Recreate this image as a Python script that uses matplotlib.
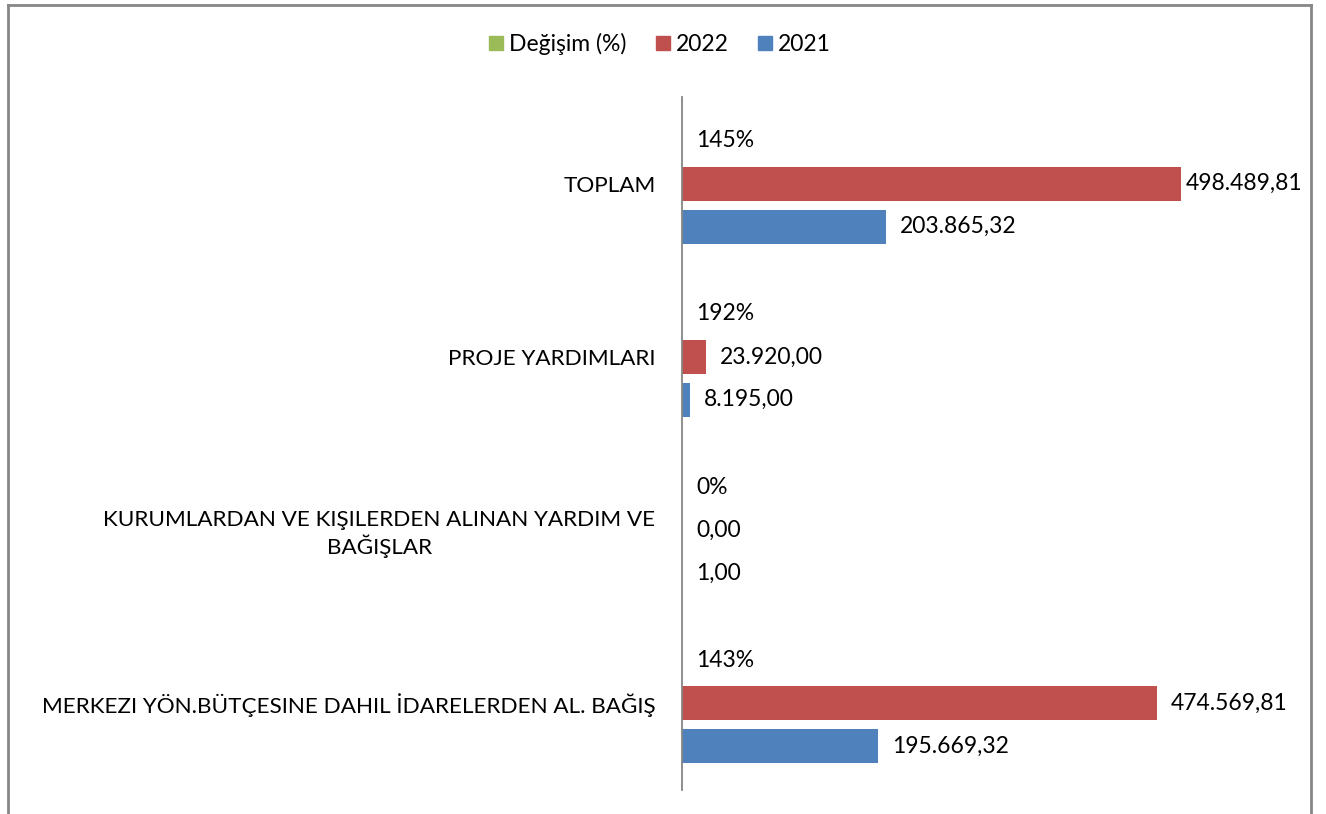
import matplotlib
matplotlib.use("Agg")
import matplotlib.pyplot as plt
from matplotlib.lines import Line2D
from matplotlib.patches import Patch

plt.rcParams['font.family'] = ['Lato', 'DejaVu Sans']

categories = ["MERKEZI YÖN.BÜTÇESINE DAHIL İDARELERDEN AL. BAĞIŞ",
              "KURUMLARDAN VE KIŞILERDEN ALINAN YARDIM VE\nBAĞIŞLAR",
              "PROJE YARDIMLARI",
              "TOPLAM"]
v2021 = [195669.32, 1.00, 8195.00, 203865.32]
v2022 = [474569.81, 0.00, 23920.00, 498489.81]
change = [1.43, 0.00, 1.92, 1.45]

c_change = "#9BBB59"
c_2022 = "#C0504D"
c_2021 = "#4F81BD"
grey = "#868686"
fs = 16.5


def tr_num(v):
    s = f"{v:,.2f}"
    return s.replace(",", "X").replace(".", ",").replace("X", ".")


W, H = 1326, 814
fig = plt.figure(figsize=(W / 100, H / 100), dpi=100)
ax = fig.add_axes([682 / W, 1 - 790 / H, (1302 - 682) / W, (790 - 97) / H])

y = list(range(len(categories)))
step = 0.248
bh = 0.196
ax.barh([i + step for i in y], change, height=bh, color=c_change)
ax.barh(y, v2022, height=bh, color=c_2022)
ax.barh([i - step for i in y], v2021, height=bh, color=c_2021)

ax.set_xlim(0, 619400)
ax.set_ylim(-0.5, len(categories) - 0.5)
ax.set_yticks(y)
ax.set_yticklabels(categories, fontsize=16.2, multialignment="center")
ax.tick_params(axis="y", length=0, pad=19)
ax.set_xticks([])
for s in ["top", "right", "bottom"]:
    ax.spines[s].set_visible(False)
ax.spines["left"].set_color(grey)
ax.spines["left"].set_linewidth(1.3)

texts = []
for i in y:
    texts.append(ax.annotate(f"{change[i] * 100:.0f}%", (change[i], i + step),
                             xytext=(10, 0), textcoords="offset points",
                             va="center", ha="left", fontsize=fs))
    texts.append(ax.annotate(tr_num(v2022[i]), (v2022[i], i),
                             xytext=(10, 0), textcoords="offset points",
                             va="center", ha="left", fontsize=fs))
    texts.append(ax.annotate(tr_num(v2021[i]), (v2021[i], i - step),
                             xytext=(10, 0), textcoords="offset points",
                             va="center", ha="left", fontsize=fs))

# keep labels inside the plot area like the original
fig.canvas.draw()
r = fig.canvas.get_renderer()
right = 1302
for t in texts:
    bb = t.get_window_extent(r)
    if bb.x1 > right:
        t.set_position((t.xyann[0] - (bb.x1 - right) * 72 / 100, 0))

handles = [Patch(color=c_change), Patch(color=c_2022), Patch(color=c_2021)]
fig.legend(handles, ["Değişim (%)", "2022", "2021"], loc="center",
           bbox_to_anchor=(660 / W, 1 - 44 / H), ncol=3, frameon=False,
           fontsize=fs, handlelength=0.6, handleheight=0.6,
           handletextpad=0.25, columnspacing=1.3)

# outer chart frame
fig.add_artist(Line2D([8 / W, 8 / W], [0, 1 - 5 / H], color=grey, lw=2))
fig.add_artist(Line2D([8 / W, 1311 / W], [1 - 5 / H, 1 - 5 / H], color=grey, lw=2))
fig.add_artist(Line2D([1311 / W, 1311 / W], [0, 1 - 5 / H], color=grey, lw=2))

fig.savefig("out.png", dpi=100)
